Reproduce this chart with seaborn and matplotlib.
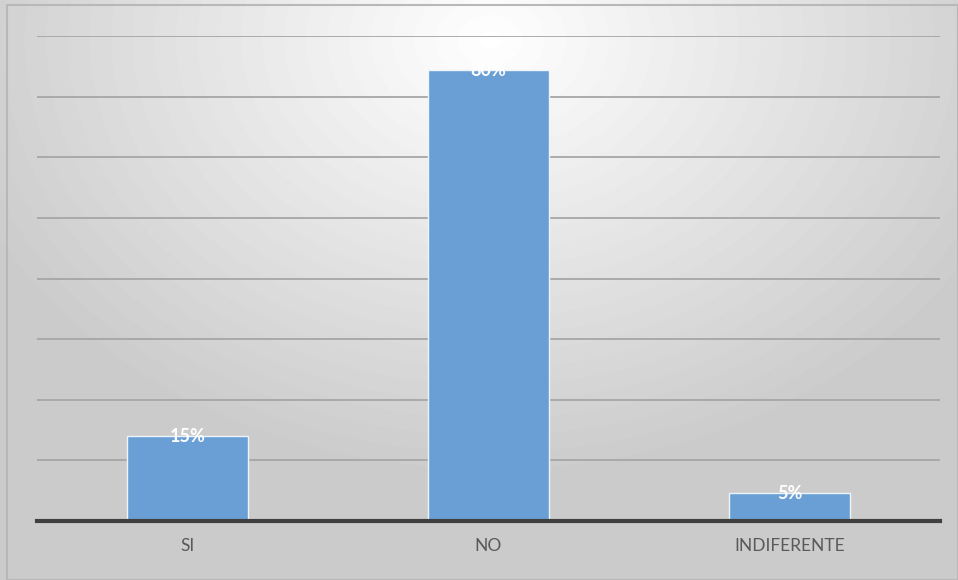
import numpy as np
import pandas as pd
import matplotlib
matplotlib.use("Agg")
import matplotlib.pyplot as plt
import seaborn as sns

# --- DATOS ---
categorias = ["SI", "NO", "INDIFERENTE"]
porcentajes = [15, 80, 5]
etiquetas = ["15%", "80%", "5%"]

df = pd.DataFrame({"respuesta": categorias, "pct": porcentajes})

sns.set_theme(style="white")
plt.rcParams['font.family'] = ['Lato', 'DejaVu Sans']

fig = plt.figure(figsize=(9.58, 5.8), dpi=100)

# Fondo con degradado radial (blanco al centro, gris en los bordes)
fondo = fig.add_axes([0, 0, 1, 1], zorder=0)
h, w = 580, 958
yy, xx = np.mgrid[0:h, 0:w]
dist = np.sqrt(((xx - 490) / 720.0) ** 2 + ((yy - 40) / 560.0) ** 2)
grad = np.clip(1.0 - 0.26 * dist, 0.8, 1.0)
fondo.imshow(grad, cmap="gray", vmin=0, vmax=1, aspect="auto", extent=[0, 1, 0, 1])
fondo.set_xlim(0, 1)
fondo.set_ylim(0, 1)
fondo.axis("off")
fondo.plot([7 / w, 1, 1, 7 / w, 7 / w], [1 - 5 / h, 1 - 5 / h, 0, 0, 1 - 5 / h],
           color="#b8b8b8", lw=1.5)

ax = fig.add_axes([37 / w, 59 / h, 903 / w, 485 / h], zorder=1)
ax.patch.set_alpha(0)

sns.barplot(data=df, x="respuesta", y="pct", ax=ax, color="#6a9fd6",
            width=0.4, saturation=1, edgecolor="#eef4fb", linewidth=1.0, zorder=3)

ymax = 86
ax.set_ylim(0, ymax)
ax.set_xlim(-0.5, 2.5)
ax.set_yticks(np.linspace(0, ymax, 9))
ax.yaxis.grid(True, color="#a6a6a6", linewidth=1.3, zorder=0)
ax.set_yticklabels([])
ax.tick_params(axis="y", length=0)
ax.tick_params(axis="x", length=0, labelsize=12.5, labelcolor="#595959", pad=12)
ax.set_xlabel("")
ax.set_ylabel("")
for lado in ["top", "right", "left"]:
    ax.spines[lado].set_visible(False)
ax.spines["bottom"].set_color("#404040")
ax.spines["bottom"].set_linewidth(3)
ax.spines["bottom"].set_zorder(4)

for i, (v, txt) in enumerate(zip(porcentajes, etiquetas)):
    ax.text(i, v - 0.1, txt, ha="center", va="center", color="white",
            fontsize=13, fontweight="bold", zorder=5)

fig.savefig("out.png", dpi=100)
plt.close(fig)
